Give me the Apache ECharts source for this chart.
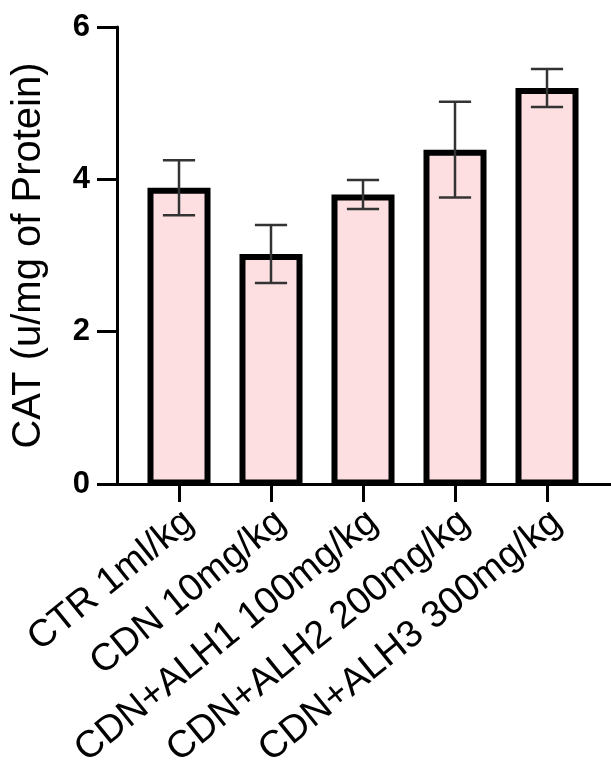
<!DOCTYPE html>
<html>
<head>
<meta charset="utf-8">
<script src="https://cdn.jsdelivr.net/npm/echarts@6/dist/echarts.min.js"></script>
<style>
html,body{margin:0;padding:0;background:#fff;}
#chart{width:611px;height:778px;}
</style>
</head>
<body>
<div id="chart"></div>
<script>
const categories = ['CTR 1ml/kg', 'CDN 10mg/kg', 'CDN+ALH1 100mg/kg', 'CDN+ALH2 200mg/kg', 'CDN+ALH3 300mg/kg'];
const means = [3.89, 3.02, 3.80, 4.39, 5.20];
const errors = [0.36, 0.38, 0.19, 0.63, 0.25];
const yAxisName = 'CAT (u/mg of Protein)';
const yMin = 0, yMax = 6, yStep = 2;

const FONT = "'Liberation Sans', Arial, Helvetica, sans-serif";
const chart = echarts.init(document.getElementById('chart'), null, {renderer: 'canvas'});

const barData = categories.map((c, i) => [i, means[i]]);
const errData = categories.map((c, i) => [i, means[i], errors[i]]);

const option = {
  backgroundColor: '#ffffff',
  animation: false,
  grid: [
    {left: 133, right: 18, top: 27, bottom: 294, containLabel: false, outerBoundsMode: 'none'},
    {left: 117, right: 0, top: 27, bottom: 294, containLabel: false, outerBoundsMode: 'none'}
  ],
  xAxis: [
    {
      type: 'category', gridIndex: 0, data: categories,
      axisLine: {show: false},
      axisTick: {show: true, alignWithLabel: true, length: 18, lineStyle: {color: '#000', width: 3}},
      axisLabel: {
        interval: 0, rotate: 39, margin: 21, fontSize: 38, fontFamily: FONT, color: '#000',
        align: 'right', verticalAlign: 'top', lineHeight: 32
      },
      splitLine: {show: false}
    },
    {
      type: 'value', gridIndex: 1, min: 0, max: 1, position: 'bottom',
      axisLine: {show: true, onZero: false, lineStyle: {color: '#000', width: 3}},
      axisTick: {show: false}, axisLabel: {show: false}, splitLine: {show: false}
    }
  ],
  yAxis: [
    {
      type: 'value', gridIndex: 0, min: yMin, max: yMax, interval: yStep, offset: 16,
      name: yAxisName, nameLocation: 'middle', nameGap: 68,
      nameTextStyle: {fontSize: 40, fontFamily: FONT, color: '#000'},
      axisLine: {show: true, lineStyle: {color: '#000', width: 3}},
      axisTick: {show: true, length: 20, lineStyle: {color: '#000', width: 3}},
      axisLabel: {margin: 27, fontSize: 31, fontWeight: 'bold', fontFamily: FONT, color: '#000'},
      splitLine: {show: false}
    },
    {type: 'value', gridIndex: 1, min: 0, max: 1, show: false}
  ],
  series: [
    {
      type: 'custom', xAxisIndex: 0, yAxisIndex: 0, z: 2,
      data: barData, encode: {x: 0, y: 1},
      renderItem: function (params, api) {
        const i = api.value(0), v = api.value(1);
        const top = api.coord([i, v]);
        const base = api.coord([i, 0]);
        const band = api.size([1, 0])[0];
        const w = band * 0.685;
        const bw = 6;
        return {
          type: 'rect',
          shape: {x: top[0] - w / 2 + bw / 2, y: top[1] + bw / 2, width: w - bw, height: base[1] - top[1] - bw / 2 - 1.5},
          style: {fill: '#FEDFE1', stroke: '#000', lineWidth: bw}
        };
      }
    },
    {
      type: 'custom', xAxisIndex: 0, yAxisIndex: 0, z: 3,
      data: errData, encode: {x: 0, y: 1},
      renderItem: function (params, api) {
        const i = api.value(0), m = api.value(1), e = api.value(2);
        const hi = api.coord([i, m + e]);
        const lo = api.coord([i, m - e]);
        const band = api.size([1, 0])[0];
        const cw = band * 0.35;
        const st = {stroke: '#333', lineWidth: 2.5};
        return {
          type: 'group',
          children: [
            {type: 'line', shape: {x1: hi[0], y1: hi[1], x2: lo[0], y2: lo[1]}, style: st},
            {type: 'line', shape: {x1: hi[0] - cw / 2, y1: hi[1], x2: hi[0] + cw / 2, y2: hi[1]}, style: st},
            {type: 'line', shape: {x1: lo[0] - cw / 2, y1: lo[1], x2: lo[0] + cw / 2, y2: lo[1]}, style: st}
          ]
        };
      }
    }
  ]
};
chart.setOption(option);
</script>
</body>
</html>
